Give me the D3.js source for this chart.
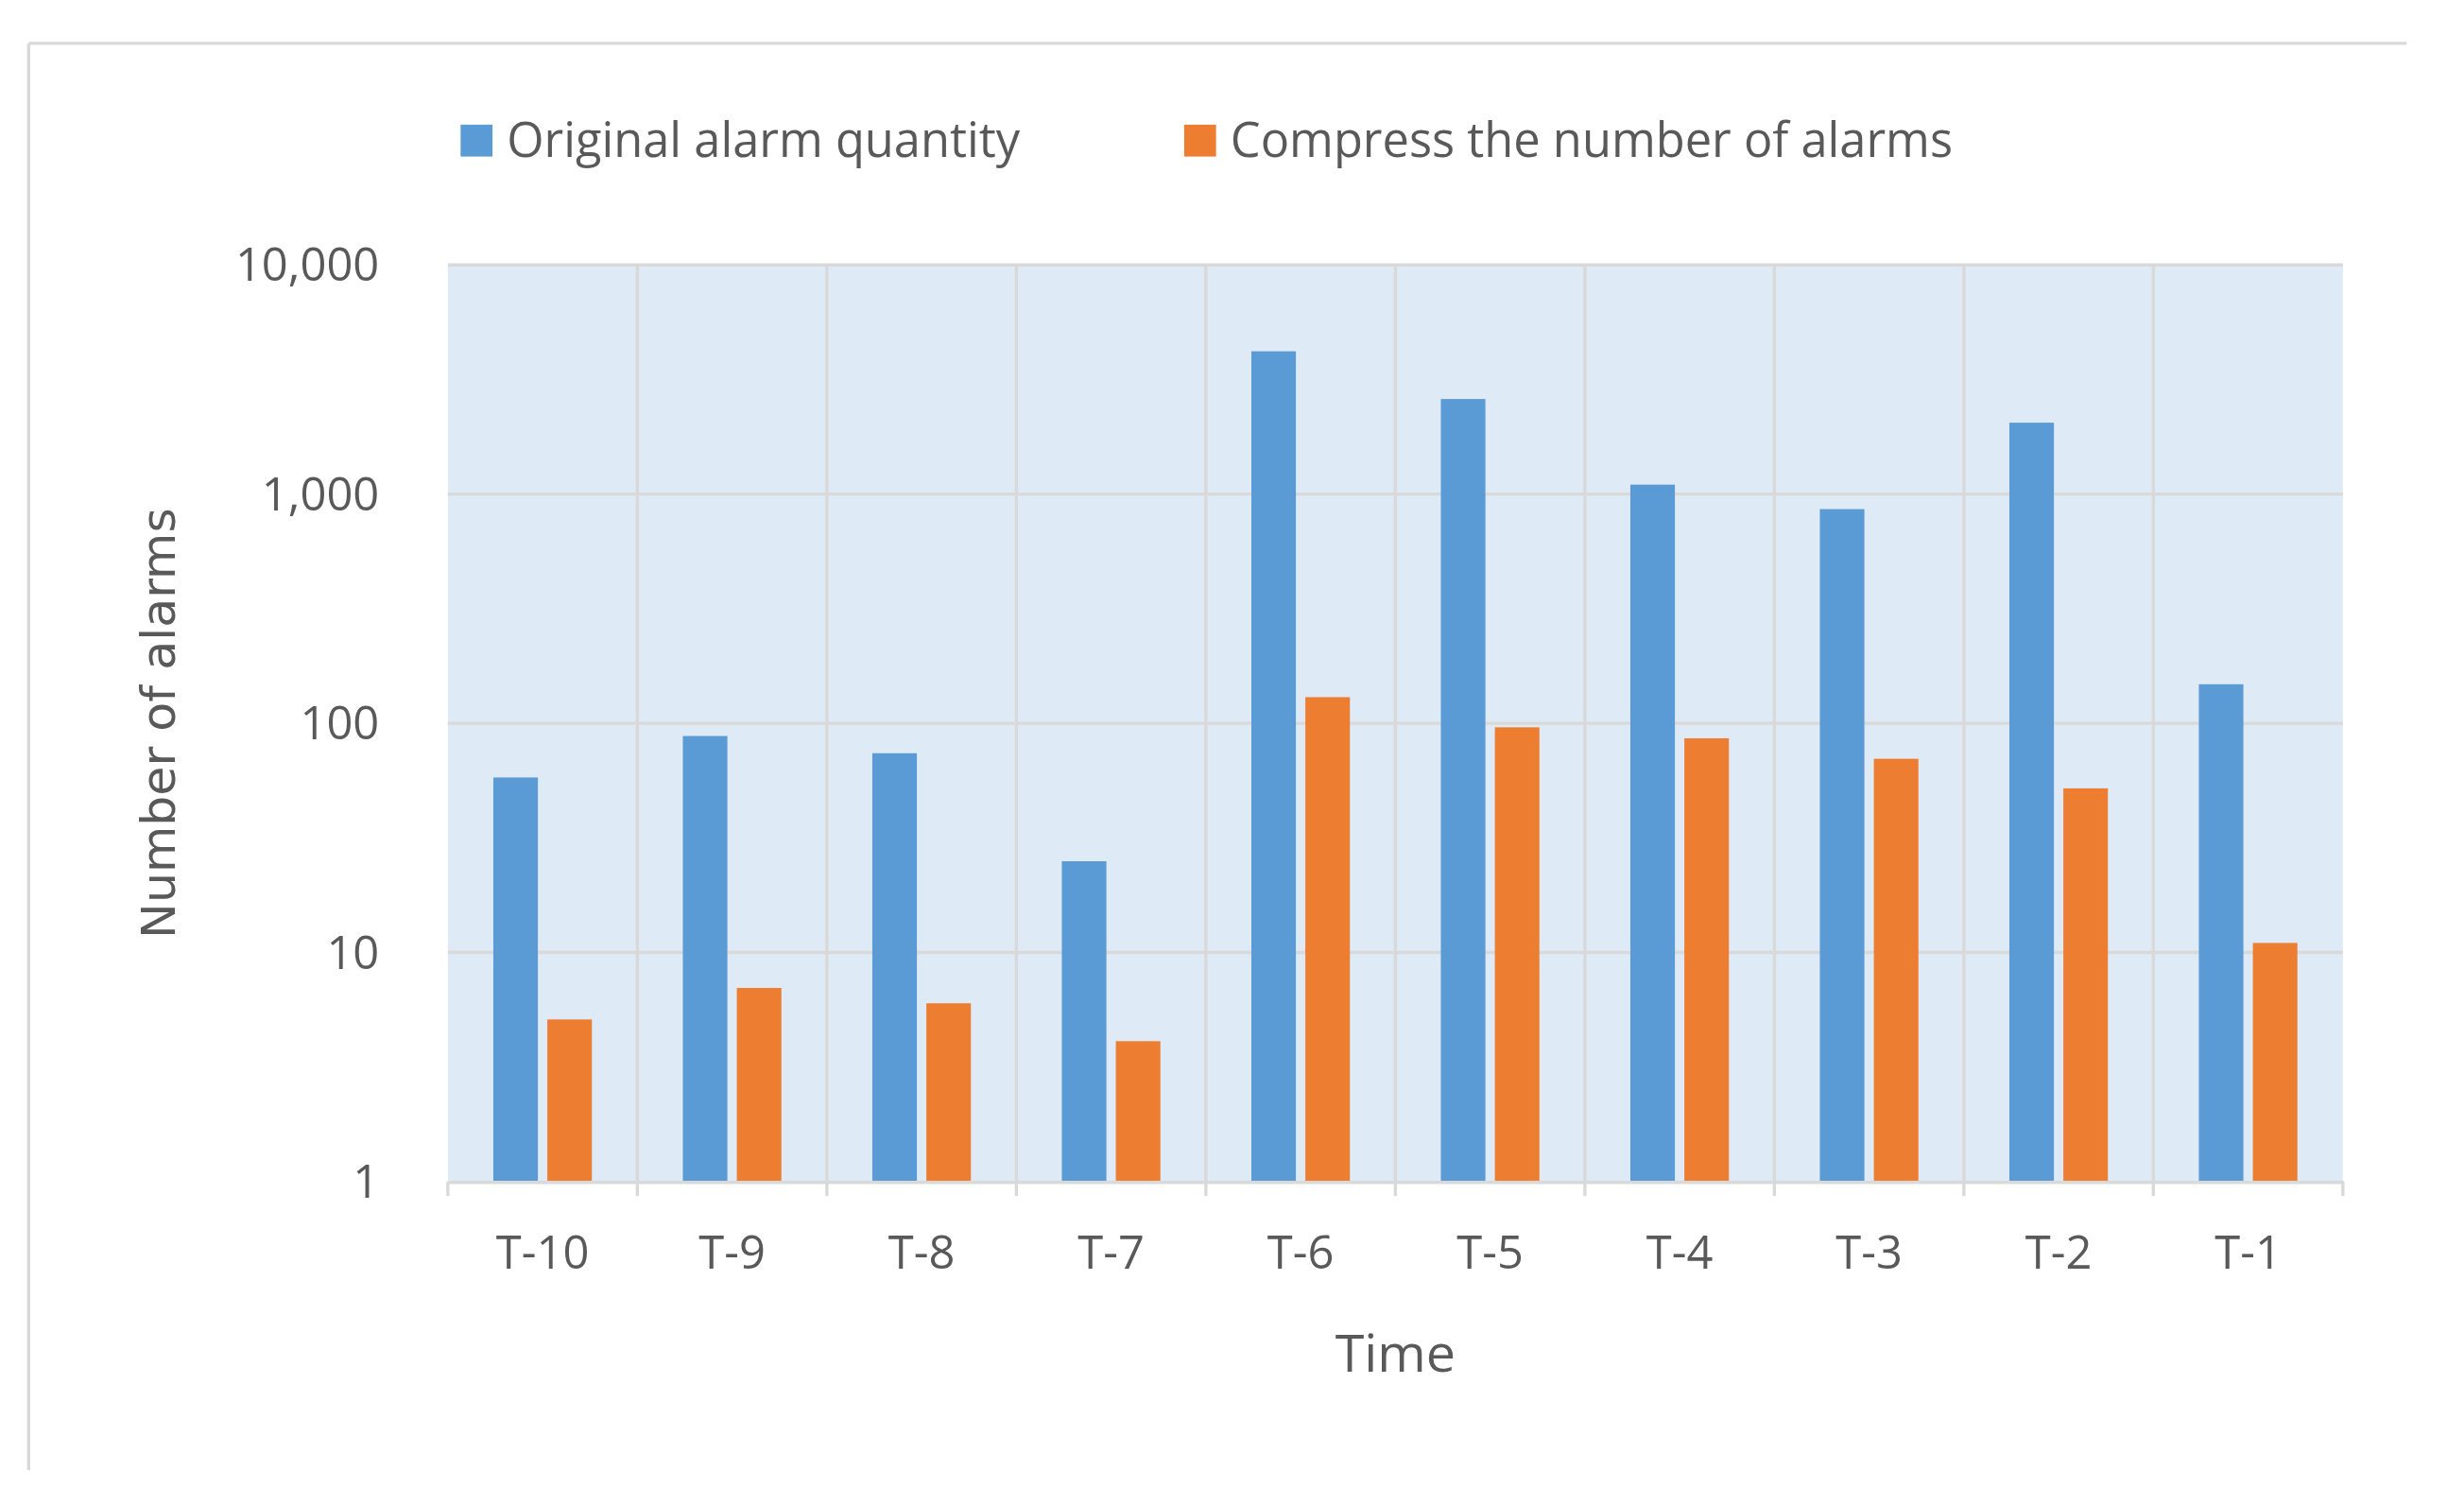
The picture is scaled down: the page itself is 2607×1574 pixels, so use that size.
<!DOCTYPE html>
<html><head><meta charset="utf-8">
<script src="https://cdn.jsdelivr.net/npm/d3@7"></script>
<style>body{margin:0;background:#fff}</style>
</head><body>
<svg id="chart"></svg>
<script>
const categories = ['T-10', 'T-9', 'T-8', 'T-7', 'T-6', 'T-5', 'T-4', 'T-3', 'T-2', 'T-1'];
const originalAlarms = [58, 88, 74, 25, 4200, 2600, 1100, 860, 2050, 148];
const compressedAlarms = [5.1, 7, 6, 4.1, 130, 96, 86, 70, 52, 11];
const yTicks = [1, 10, 100, 1000, 10000];
const seriesNames = ['Original alarm quantity', 'Compress the number of alarms'];
const seriesColors = ['#5B9BD5', '#ED7D31'];

const W = 1546, H = 933;
const svg = d3.select('#chart')
  .attr('width', 2607).attr('height', 1574)
  .attr('viewBox', `0 0 ${W} ${H}`);

const font = "'Open Sans', 'Liberation Sans', sans-serif";
const textColor = '#595959';

// frame lines
svg.append('line').attr('x1', 18).attr('x2', 1510).attr('y1', 27).attr('y2', 27)
  .attr('stroke', '#d9d9d9').attr('stroke-width', 2);
svg.append('line').attr('x1', 18).attr('x2', 18).attr('y1', 27).attr('y2', 922)
  .attr('stroke', '#d9d9d9').attr('stroke-width', 2);

const pLeft = 281, pRight = 1470, pTop = 166, pBottom = 741;

const x = d3.scaleBand().domain(categories).range([pLeft, pRight]);
const y = d3.scaleLog().domain([1, 10000]).range([pBottom, pTop]);

svg.append('rect').attr('x', pLeft).attr('y', pTop)
  .attr('width', pRight - pLeft).attr('height', pBottom - pTop).attr('fill', '#DEEAF6');

// gridlines
svg.append('g').selectAll('line').data(yTicks.slice(1)).enter().append('line')
  .attr('x1', pLeft).attr('x2', pRight)
  .attr('y1', d => y(d)).attr('y2', d => y(d))
  .attr('stroke', '#d9d9d9').attr('stroke-width', 2);
svg.append('g').selectAll('line').data(categories.slice(1)).enter().append('line')
  .attr('x1', d => x(d)).attr('x2', d => x(d))
  .attr('y1', pTop).attr('y2', pBottom)
  .attr('stroke', '#d9d9d9').attr('stroke-width', 2);

// bars
const bw = x.bandwidth() * 0.235;
const gap = x.bandwidth() * 0.05;
const off = (x.bandwidth() - 2 * bw - gap) / 2;
[originalAlarms, compressedAlarms].forEach((vals, i) => {
  svg.append('g').selectAll('rect').data(vals).enter().append('rect')
    .attr('x', (d, j) => x(categories[j]) + off + i * (bw + gap))
    .attr('y', d => y(d))
    .attr('width', bw)
    .attr('height', d => y(1) - y(d))
    .attr('fill', seriesColors[i]);
});

// x axis
const xAxis = svg.append('g').attr('transform', `translate(0,${pBottom})`)
  .call(d3.axisBottom(x).tickSize(0).tickPadding(34));
xAxis.select('.domain').attr('stroke', '#d9d9d9').attr('stroke-width', 2);
xAxis.selectAll('text').attr('font-family', font).attr('font-size', 29).attr('fill', textColor);
svg.append('g').selectAll('line').data(d3.range(categories.length + 1)).enter().append('line')
  .attr('x1', i => pLeft + i * x.step()).attr('x2', i => pLeft + i * x.step())
  .attr('y1', pBottom).attr('y2', pBottom + 9)
  .attr('stroke', '#d9d9d9').attr('stroke-width', 2);

// y axis labels
svg.append('g').selectAll('text').data(yTicks).enter().append('text')
  .attr('x', 238).attr('y', d => y(d)).attr('dy', '0.35em')
  .attr('text-anchor', 'end')
  .attr('font-family', font).attr('font-size', 29).attr('fill', textColor)
  .text(d => d3.format(',')(d));

// axis titles
svg.append('text').attr('x', (pLeft + pRight) / 2).attr('y', 860)
  .attr('text-anchor', 'middle').attr('font-family', font).attr('font-size', 33)
  .attr('fill', textColor).text('Time');
svg.append('text').attr('transform', `translate(110,${(pTop + pBottom) / 2}) rotate(-90)`)
  .attr('text-anchor', 'middle').attr('font-family', "'DejaVu Sans', Verdana, sans-serif")
  .attr('font-size', 30).attr('fill', textColor).text('Number of alarms');

// legend
const legendX = [289, 743];
seriesNames.forEach((name, i) => {
  svg.append('rect').attr('x', legendX[i]).attr('y', 78).attr('width', 20).attr('height', 20)
    .attr('fill', seriesColors[i]);
  svg.append('text').attr('x', legendX[i] + 29).attr('y', 88).attr('dy', '0.35em')
    .attr('font-family', font).attr('font-size', 30).attr('fill', textColor).text(name);
});
</script>
</body></html>
